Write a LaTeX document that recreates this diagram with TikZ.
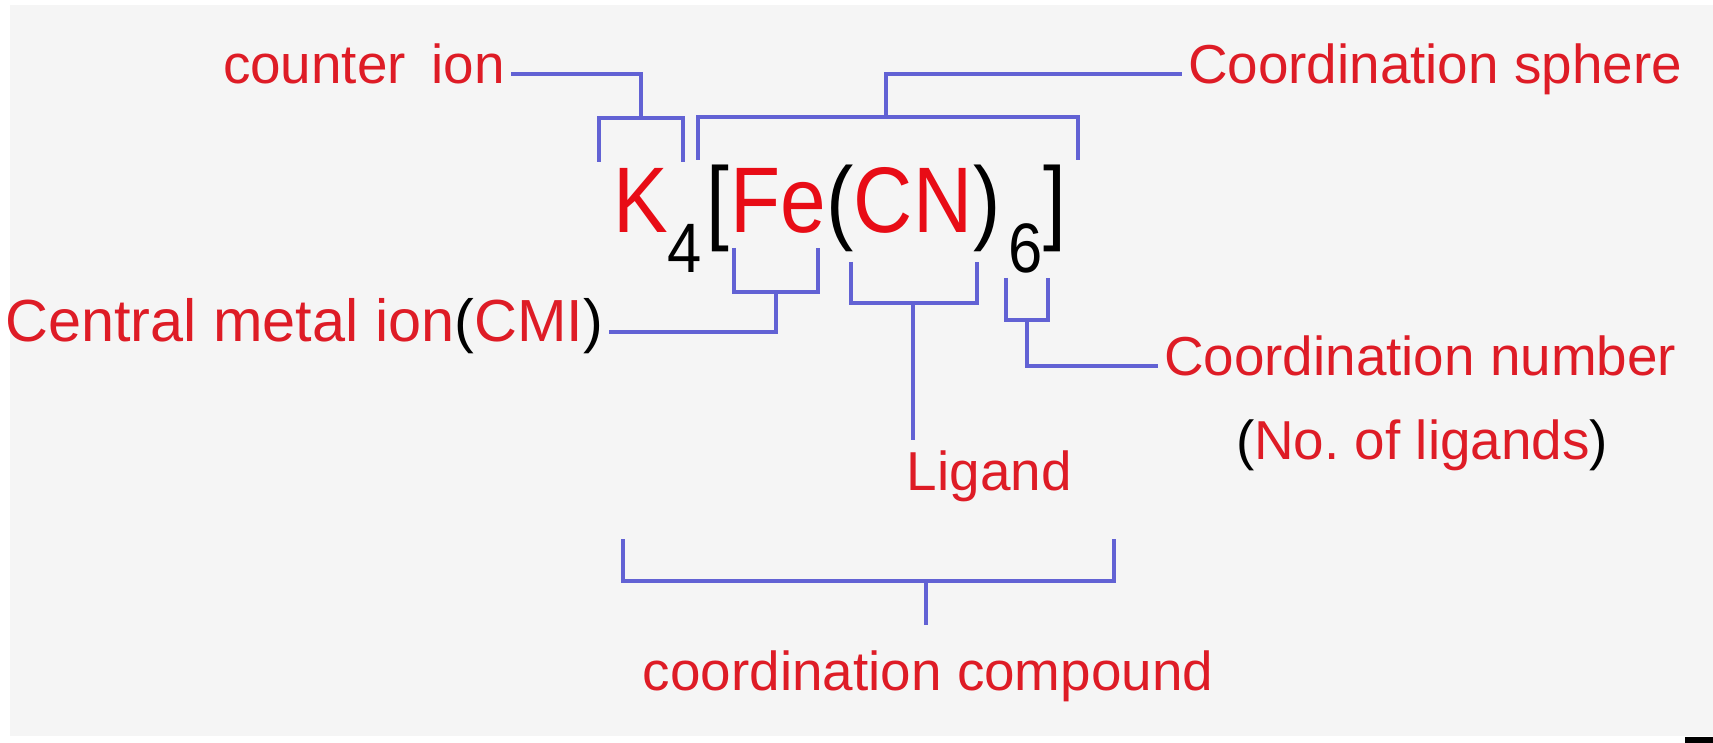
\documentclass[tikz,border=0pt]{standalone}
\usepackage{xcolor}
\usepackage{graphicx}
\usepackage{tikz}
\usepackage{fontspec}
\setmainfont{Liberation Sans}
\usetikzlibrary{positioning, calc}
\definecolor{lblred}{RGB}{222, 28, 38}
\definecolor{symred}{RGB}{232, 12, 22}
\definecolor{lineblue}{RGB}{98, 98, 212}
\definecolor{bggray}{RGB}{245, 245, 245}
\newcommand{\narrow}[1]{\scalebox{0.88}[1]{#1}}

\begin{document}
\begin{tikzpicture}[
    x=0.01cm, y=-0.01cm,
    lbl/.style={text=lblred, font=\fontsize{15.6}{18}\selectfont, inner sep=1.5pt},
    symb/.style={font=\fontsize{26.5}{30}\selectfont, inner sep=0pt, anchor=base},
    subs/.style={font=\fontsize{19.9}{23}\selectfont, inner sep=0pt, anchor=base},
    conn/.style={draw=lineblue, line width=1pt}
]

    \useasboundingbox (0,0) rectangle (1713,743);
    \fill[white] (0,0) rectangle (1713,743);
    \fill[bggray] (10,5) rectangle (1713,736);
    \fill[black] (1685,737) rectangle (1713,743);

    % formula
    \node[symb, text=symred] (K) at (641,233) {\narrow{K}};
    \node[subs] (four) at (685,273) {\narrow{4}};
    \node[symb] (lbr) at (718,233) {\narrow{[}};
    \node[symb, text=symred] (Fe) at (778,233) {\narrow{Fe}};
    \node[symb] (lpar) at (840,233) {\narrow{(}};
    \node[symb, text=symred] (CN) at (913,233) {\narrow{CN}};
    \node[symb] (rpar) at (987,233) {\narrow{)}};
    \node[subs] (six) at (1026,273) {\narrow{6}};
    \node[symb] (rbr) at (1055,233) {\narrow{]}};

    % labels
    \node[lbl, anchor=mid east] (counter) at (511,74) {counter\hspace{3pt} ion};
    \node[lbl, anchor=mid west] (sphere) at (1182,74) {Coordination sphere};
    \node[lbl, anchor=mid east, font=\fontsize{16.9}{19}\selectfont] (cmi) at (609,332) {Central metal ion{\color{black}(}CMI{\color{black})}};
    \node[lbl, anchor=mid west] (cnum) at (1158,366) {Coordination number};
    \node[lbl, anchor=base west] (noligands) at (1230,459) {{\color{black}(}No.\ of ligands{\color{black})}};
    \node[lbl, anchor=base west] (ligand) at (901,490) {Ligand};
    \node[lbl, anchor=base west] (compound) at (637,690) {coordination compound};

    % bracket points
    \coordinate (ciA) at (599,162);
    \coordinate (ciB) at (683,162);
    \coordinate (ciM) at (641,118);
    \coordinate (csA) at (698,160);
    \coordinate (csB) at (1078,160);
    \coordinate (csM) at (886,117);
    \coordinate (feA) at (734,248);
    \coordinate (feB) at (818,248);
    \coordinate (feM) at (776,292);
    \coordinate (cnA) at (851,262);
    \coordinate (cnB) at (977,262);
    \coordinate (cnM) at (913,303);
    \coordinate (lgE) at (913,440);
    \coordinate (sxA) at (1006,278);
    \coordinate (sxB) at (1048,278);
    \coordinate (sxM) at (1027,320);
    \coordinate (cpA) at (623,539);
    \coordinate (cpB) at (1114,539);
    \coordinate (cpM) at (926,581);
    \coordinate (cpE) at (926,625);

    \draw[conn] (ciA) |- (ciM) -| (ciB);
    \draw[conn] (ciM) |- (counter.mid east);
    \draw[conn] (csA) |- (csM) -| (csB);
    \draw[conn] (csM) |- (sphere.mid west);
    \draw[conn] (feA) |- (feM) -| (feB);
    \draw[conn] (feM) |- (cmi.mid east);
    \draw[conn] (cnA) |- (cnM) -| (cnB);
    \draw[conn] (cnM) -- (lgE);
    \draw[conn] (sxA) |- (sxM) -| (sxB);
    \draw[conn] (sxM) |- (cnum.mid west);
    \draw[conn] (cpA) |- (cpM) -| (cpB);
    \draw[conn] (cpM) -- (cpE);

\end{tikzpicture}
\end{document}
